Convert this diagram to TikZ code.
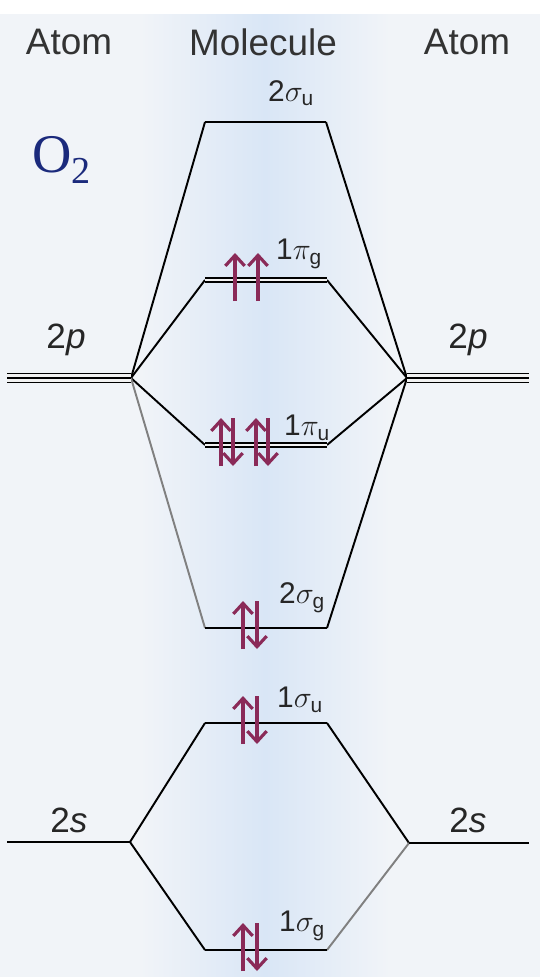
\documentclass[tikz,border=0pt]{standalone}
\usepackage{fontspec}
\setmainfont{Liberation Sans}
\newfontfamily\oxyfont{Liberation Serif}
\usepackage{amsmath}
\usetikzlibrary{arrows.meta}
\definecolor{spin}{HTML}{8A2A58}
\definecolor{oxy}{HTML}{1B2A7C}
\definecolor{paper}{HTML}{F1F4F8}
\definecolor{band}{HTML}{D9E6F6}

\begin{document}
\begin{tikzpicture}[x=0.02cm, y=-0.02cm,
  lvl/.style={line width=1.5pt},
  pair/.style={line width=0.9pt, double=white!90!gray, double distance=1.6pt},
  trip/.style={line width=0.9pt, double=white!90!gray, double distance=4pt},
  tie/.style={line width=1.1pt},
  elec/.style={draw=spin, line width=1.8pt, -{Straight Barb[length=6pt,width=11pt]}},
  head/.style={font=\fontsize{21}{24}\selectfont, text=black!80},
  orb/.style={font=\fontsize{20}{24}\selectfont, text=black!85},
  mo/.style={font=\fontsize{17}{20}\selectfont, text=black!85, anchor=west}
]
\useasboundingbox (0,0) rectangle (540,977);
\fill[paper] (0,0) rectangle (540,977);
\fill[white] (0,0) rectangle (540,14);
\shade[left color=paper, right color=paper, middle color=band] (140,14) rectangle (390,977);

\node[head] (atomL) at (69,42) {Atom};
\node[head] (mol) at (263,42) {Molecule};
\node[head] (atomR) at (467,42) {Atom};
\node[text=oxy, font=\oxyfont\fontsize{31}{34}\selectfont] (otwo) at (62,160) {O$_{\text{2}}$};

\coordinate (pLo) at (7,378);   \coordinate (pL) at (131,378);
\coordinate (pR) at (407,378);  \coordinate (pRo) at (529,378);
\coordinate (sLo) at (7,842);   \coordinate (sL) at (130,842);
\coordinate (sR) at (409,843);  \coordinate (sRo) at (529,843);
\coordinate (suA) at (205,122); \coordinate (suB) at (326,122);
\coordinate (pgA) at (205,280); \coordinate (pgB) at (327,280);
\coordinate (puA) at (205,445); \coordinate (puB) at (327,445);
\coordinate (sgA) at (205,628); \coordinate (sgB) at (327,628);
\coordinate (luA) at (205,723); \coordinate (luB) at (327,723);
\coordinate (lgA) at (205,950); \coordinate (lgB) at (327,950);

\draw[tie] (pL) -- (suA);
\draw[tie] (pL) -- (pgA);
\draw[tie] (pL) -- (puA);
\draw[tie, gray] (pL) -- (sgA);
\draw[tie] (pR) -- (suB);
\draw[tie] (pR) -- (pgB);
\draw[tie] (pR) -- (puB);
\draw[tie] (pR) -- (sgB);
\draw[tie] (sL) -- (luA);
\draw[tie] (sL) -- (lgA);
\draw[tie] (sR) -- (luB);
\draw[tie, gray] (sR) -- (lgB);

\draw[trip] (pLo) -- (pL);
\draw[line width=0.9pt] (pLo) -- (pL);
\draw[trip] (pR) -- (pRo);
\draw[line width=0.9pt] (pR) -- (pRo);
\draw[lvl] (sLo) -- (sL);
\draw[lvl] (sR) -- (sRo);
\draw[lvl] (suA) -- (suB);
\draw[pair] (pgA) -- (pgB);
\draw[pair] (puA) -- (puB);
\draw[lvl] (sgA) -- (sgB);
\draw[lvl] (luA) -- (luB);
\draw[lvl] (lgA) -- (lgB);

\node[orb] (p2L) at (66,340) {2\textit{p}};
\node[orb] (p2R) at (468,340) {2\textit{p}};
\node[orb] (s2L) at (69,820) {2\textit{s}};
\node[orb] (s2R) at (468,820) {2\textit{s}};

\node[mo] (lsu) at (262,93) {2$\sigma_{\text{u}}$};
\node[mo] (lpg) at (270,254) {1$\pi_{\text{g}}$};
\node[mo] (lpu) at (278,428) {1$\pi_{\text{u}}$};
\node[mo] (lsg) at (273,598) {2$\sigma_{\text{g}}$};
\node[mo] (llu) at (271,700) {1$\sigma_{\text{u}}$};
\node[mo] (llg) at (273,926) {1$\sigma_{\text{g}}$};

\foreach \x/\y in {235/280, 258/280, 221/445, 256/445, 243/628, 243/723, 243/950}
  \draw[elec] (\x,\y+21) -- (\x,\y-27);
\foreach \x/\y in {233/445, 268/445, 257/628, 257/723, 257/950}
  \draw[elec] (\x,\y-27) -- (\x,\y+21);
\end{tikzpicture}
\end{document}
